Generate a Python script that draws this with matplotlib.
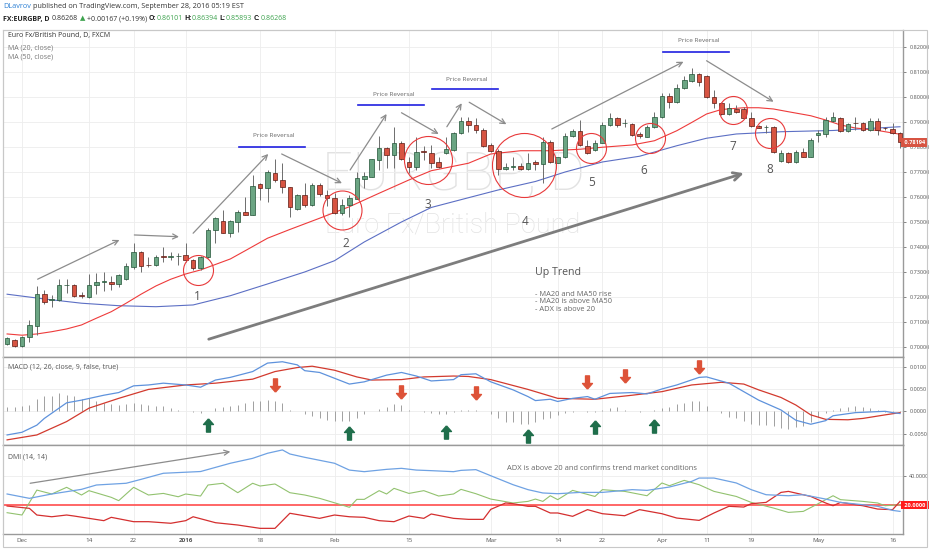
import numpy as np
import matplotlib
matplotlib.use("Agg")
import matplotlib.pyplot as plt
from matplotlib.patches import Rectangle
from matplotlib.ticker import FuncFormatter

plt.rcParams['font.family'] = ['Open Sans', 'DejaVu Sans']

# ---------------- data (bar index 0 = 27 Nov 2015, daily FX bars) ----------------
opens = [0.7012,0.7028,0.7005,0.7039,0.7085,0.7211,0.7187,0.7188,0.7247,0.7248,
 0.7207,0.7199,0.7247,0.7260,0.7261,0.7252,0.7271,0.7321,0.7381,0.7327,
 0.7327,0.7362,0.7361,0.7363,0.7369,0.7348,0.7315,0.7359,0.7468,0.7505,
 0.7457,0.7501,0.7541,0.7528,0.7652,0.7637,0.7697,0.7668,0.7639,0.7552,
 0.7608,0.7568,0.7648,0.7608,0.7595,0.7535,0.7568,0.7592,0.7673,0.7681,
 0.7748,0.7795,0.7768,0.7817,0.7741,0.7719,0.7783,0.7777,0.7739,0.7777,
 0.7788,0.7855,0.7904,0.7887,0.7868,0.7808,0.7785,0.7711,0.7719,0.7724,
 0.7713,0.7740,0.7731,0.7821,0.7737,0.7759,0.7844,0.7865,0.7804,0.7788,
 0.7817,0.7888,0.7915,0.7895,0.7891,0.7852,0.7841,0.7881,0.7921,0.8005,
 0.7979,0.8035,0.8065,0.8092,0.8085,0.8001,0.7975,0.7931,0.7952,0.7952,
 0.7917,0.7884,0.7879,0.7881,0.7744,0.7775,0.7741,0.7781,0.7761,0.7848,
 0.7852,0.7905,0.7917,0.7865,0.7895,0.7895,0.7868,0.7904,0.7877,0.7872,
 0.7855]
highs = [0.7041,0.7032,0.7043,0.7108,0.7244,0.7228,0.7208,0.7272,0.7271,0.7252,
 0.7221,0.7291,0.7295,0.7299,0.7284,0.7291,0.7335,0.7415,0.7384,0.7361,
 0.7368,0.7401,0.7381,0.7375,0.7417,0.7351,0.7363,0.7475,0.7521,0.7548,
 0.7508,0.7548,0.7601,0.7688,0.7657,0.7708,0.7751,0.7735,0.7641,0.7611,
 0.7657,0.7655,0.7655,0.7628,0.7615,0.7591,0.7608,0.7701,0.7701,0.7751,
 0.7844,0.7799,0.7880,0.7822,0.7761,0.7841,0.7804,0.7808,0.7759,0.7839,
 0.7861,0.7921,0.7921,0.7915,0.7875,0.7815,0.7791,0.7735,0.7761,0.7735,
 0.7775,0.7748,0.7841,0.7828,0.7761,0.7857,0.7871,0.7908,0.7828,0.7828,
 0.7901,0.7935,0.7919,0.7911,0.7895,0.7861,0.7888,0.7941,0.8015,0.8015,
 0.8051,0.8085,0.8115,0.8095,0.8088,0.8028,0.7981,0.7975,0.7968,0.7961,
 0.7941,0.7888,0.7888,0.7885,0.7788,0.7779,0.7788,0.7795,0.7835,0.7868,
 0.7921,0.7941,0.7921,0.7895,0.7921,0.7901,0.7915,0.7915,0.7881,0.7895,
 0.7859]
lows = [0.7008,0.7000,0.6998,0.7021,0.7048,0.7172,0.7159,0.7185,0.7215,0.7199,
 0.7195,0.7195,0.7212,0.7225,0.7228,0.7241,0.7268,0.7311,0.7301,0.7319,
 0.7324,0.7341,0.7348,0.7328,0.7341,0.7308,0.7308,0.7355,0.7415,0.7455,
 0.7441,0.7461,0.7528,0.7528,0.7588,0.7581,0.7661,0.7615,0.7521,0.7548,
 0.7561,0.7564,0.7604,0.7564,0.7532,0.7528,0.7521,0.7592,0.7635,0.7679,
 0.7708,0.7715,0.7715,0.7748,0.7695,0.7708,0.7748,0.7715,0.7715,0.7772,
 0.7785,0.7852,0.7861,0.7855,0.7801,0.7781,0.7688,0.7708,0.7708,0.7708,
 0.7708,0.7708,0.7655,0.7737,0.7735,0.7755,0.7841,0.7804,0.7772,0.7785,
 0.7815,0.7884,0.7881,0.7881,0.7844,0.7835,0.7839,0.7875,0.7917,0.7957,
 0.7975,0.8032,0.8061,0.8045,0.7995,0.7957,0.7928,0.7928,0.7935,0.7915,
 0.7881,0.7875,0.7855,0.7775,0.7741,0.7735,0.7737,0.7759,0.7759,0.7821,
 0.7841,0.7901,0.7861,0.7861,0.7868,0.7864,0.7864,0.7848,0.7868,0.7851,
 0.7795]
closes = [0.7037,0.7005,0.7039,0.7088,0.7212,0.7179,0.7190,0.7247,0.7248,0.7205,
 0.7205,0.7248,0.7259,0.7262,0.7252,0.7288,0.7324,0.7381,0.7324,0.7326,
 0.7359,0.7361,0.7363,0.7364,0.7348,0.7315,0.7359,0.7468,0.7515,0.7457,
 0.7505,0.7541,0.7528,0.7644,0.7637,0.7701,0.7668,0.7639,0.7559,0.7608,
 0.7568,0.7648,0.7611,0.7597,0.7535,0.7568,0.7595,0.7675,0.7683,0.7751,
 0.7795,0.7768,0.7817,0.7751,0.7719,0.7781,0.7780,0.7737,0.7719,0.7791,
 0.7855,0.7904,0.7887,0.7868,0.7804,0.7785,0.7711,0.7721,0.7724,0.7713,
 0.7737,0.7731,0.7821,0.7741,0.7759,0.7844,0.7865,0.7808,0.7775,0.7817,
 0.7888,0.7915,0.7888,0.7895,0.7848,0.7844,0.7881,0.7921,0.8005,0.7979,
 0.8035,0.8068,0.8092,0.8061,0.8001,0.7975,0.7932,0.7955,0.7939,0.7917,
 0.7884,0.7877,0.7879,0.7779,0.7775,0.7741,0.7781,0.7761,0.7828,0.7857,
 0.7908,0.7919,0.7865,0.7892,0.7894,0.7868,0.7904,0.7868,0.7875,0.7855,
 0.7819]
last_price = 0.78194

ma20_x = [0,2,4,6,8,10,12,14,16,18,20,22,24,26,28,30,32,35,38,42,46,50,54,57,62,65,
          69,73,77,80,84,87,90,92,94,96,99,101,103,105,108,110,112,114,117,120]
ma20_y = [0.7052,0.7047,0.7052,0.7061,0.7072,0.7088,0.7115,0.7141,0.7175,0.7211,0.7244,
          0.7271,0.7292,0.7308,0.7330,0.7352,0.7385,0.7435,0.7470,0.7515,0.7561,0.7615,
          0.7668,0.7705,0.7735,0.7772,0.7785,0.7785,0.7791,0.7799,0.7808,0.7825,0.7865,
          0.7898,0.7932,0.7950,0.7957,0.7957,0.7952,0.7941,0.7925,0.7908,0.7888,0.7876,
          0.7866,0.7851]
ma50_x = [0,5,10,15,20,25,30,35,40,44,48,53,57,62,66,71,75,80,85,90,94,98,104,111,120]
ma50_y = [0.7211,0.7192,0.7175,0.7165,0.7161,0.7168,0.7205,0.7252,0.7300,0.7345,0.7420,
          0.7500,0.7558,0.7597,0.7628,0.7662,0.7700,0.7740,0.7763,0.7805,0.7835,0.7852,
          0.7861,0.7866,0.7881]

macd_x = [0,2,4,5,8,10,13,15,17,19,21,24,26,28,30,33,35,37,39,40,42,44,46,48,51,53,55,
          57,60,61,63,65,68,70,71,73,74,76,78,79,81,84,86,88,90,93,94,97,99,101,104,106,
          108,110,111,114,118,119,120]
macd_y = [-0.0053,-0.0047,-0.0031,-0.0016,0.0019,0.0025,0.0036,0.0042,0.0057,0.0059,0.0063,
          0.0059,0.0054,0.0070,0.0076,0.0089,0.0108,0.0111,0.0104,0.0091,0.0087,0.0074,
          0.0061,0.0066,0.0081,0.0087,0.0079,0.0068,0.0071,0.0082,0.0084,0.0066,0.0048,
          0.0033,0.0024,0.0027,0.0022,0.0029,0.0033,0.0027,0.0040,0.0042,0.0039,0.0050,
          0.0059,0.0076,0.0077,0.0063,0.0044,0.0025,0.0003,-0.0020,-0.0029,-0.0021,-0.0010,
          -0.0003,0.0000,-0.0003,-0.0005]
signal_x = [0,4,8,11,15,19,24,28,33,36,39,41,44,47,49,53,56,60,62,65,70,74,79,84,88,92,96,
            99,101,104,106,108,110,113,115,118,120]
signal_y = [-0.0064,-0.0053,-0.0023,0.0007,0.0029,0.0049,0.0059,0.0063,0.0072,0.0089,0.0098,
            0.0101,0.0092,0.0077,0.0070,0.0071,0.0077,0.0079,0.0078,0.0071,0.0049,0.0029,
            0.0027,0.0036,0.0044,0.0059,0.0065,0.0061,0.0048,0.0031,0.0014,-0.0008,-0.0018,
            -0.0019,-0.0016,-0.0008,-0.0003]
hist = [0.0010,0.0010,0.0011,0.0015,0.0028,0.0034,0.0034,0.0041,0.0037,0.0035,
 0.0028,0.0030,0.0022,0.0019,0.0017,0.0015,0.0016,0.0019,0.0017,0.0013,
 0.0011,0.0011,0.0007,0.0004,0.0000,-0.0002,-0.0004,0.0000,0.0007,0.0010,
 0.0011,0.0015,0.0019,0.0022,0.0022,0.0025,0.0022,0.0019,0.0004,0.0000,
 -0.0007,-0.0011,-0.0015,-0.0019,-0.0022,-0.0022,-0.0022,-0.0015,-0.0007,0.0000,
 0.0005,0.0010,0.0016,0.0013,0.0004,0.0000,-0.0001,-0.0004,-0.0007,-0.0005,
 -0.0002,0.0003,0.0004,0.0003,0.0000,-0.0006,-0.0016,-0.0023,-0.0025,-0.0028,
 -0.0028,-0.0023,-0.0018,-0.0016,-0.0008,-0.0003,-0.0001,0.0001,-0.0001,-0.0001,
 0.0003,0.0007,0.0009,0.0004,0.0001,-0.0001,0.0000,0.0003,0.0007,0.0009,
 0.0016,0.0018,0.0022,0.0024,0.0012,0.0001,-0.0004,-0.0012,-0.0016,-0.0021,
 -0.0028,-0.0031,-0.0031,-0.0034,-0.0038,-0.0040,-0.0036,-0.0033,-0.0025,-0.0012,
 -0.0004,0.0004,0.0007,0.0010,0.0012,0.0010,0.0007,0.0003,-0.0001,-0.0001,
 -0.0001]
buy_x = [27, 46, 59, 70, 79, 87]
buy_y = [-0.0031, -0.0048, -0.0046, -0.0055, -0.0036, -0.0033]
sell_x = [36, 53, 63, 78, 83, 93]
sell_y = [0.0059, 0.0044, 0.0041, 0.0066, 0.0078, 0.0099]

adx_x = [0,3,6,10,12,16,18,21,26,30,33,35,37,38,40,44,46,48,51,53,55,57,60,61,63,65,68,
         70,72,74,77,80,84,86,89,92,93,95,98,100,102,105,107,110,112,115,117,119,120]
adx_y = [27.6,24.6,27.6,30.8,33.8,35.0,37.7,41.9,43.1,48.8,52.2,55.7,58.0,55.2,52.9,48.8,
         44.1,43.0,44.6,45.3,44.1,43.7,43.0,43.9,44.4,40.2,34.0,30.6,28.3,27.8,28.7,28.7,
         30.6,30.1,32.4,36.3,38.6,38.6,35.2,30.6,27.1,26.4,27.1,24.1,21.8,20.2,19.1,16.3,15.6]
pdi_x = [0,2,4,6,8,10,11,14,15,17,19,21,23,24,26,27,29,31,33,34,36,38,40,42,45,46,47,48,
         50,51,52,54,56,58,60,61,63,65,68,70,71,72,73,74,76,79,80,83,86,88,89,91,93,95,98,
         100,103,105,107,109,111,112,115,117,118,120]
pdi_y = [14.7,13.1,30.3,27.6,32.2,26.9,29.9,25.3,23.0,32.2,26.9,28.0,25.7,27.6,26.2,33.8,
         35.0,28.5,35.0,33.1,34.5,28.5,26.9,24.6,20.0,18.4,23.9,23.9,29.9,27.6,31.5,28.0,
         29.9,26.2,27.6,30.8,27.8,24.1,21.4,22.5,24.1,22.5,26.4,23.7,30.1,25.9,30.6,29.4,
         26.4,35.2,33.3,37.0,34.0,29.4,25.9,21.8,17.9,14.9,15.6,20.9,26.4,23.7,22.5,21.4,
         19.5,20.2]
mdi_x = [0,3,4,6,8,9,11,13,14,17,19,22,24,25,28,31,34,36,38,42,44,46,48,50,52,54,56,57,60,
         62,64,65,67,68,70,71,73,74,76,78,80,83,85,88,90,93,95,97,99,100,102,104,105,108,
         110,111,112,115,117,119,120]
mdi_y = [19.3,17.7,13.1,11.9,13.1,12.4,10.8,9.2,11.5,8.5,8.5,7.4,9.2,11.9,7.8,6.2,3.9,3.9,
         14.3,10.8,13.1,11.9,11.5,9.2,8.5,12.4,10.8,13.8,10.8,10.1,10.1,17.0,21.4,20.9,19.1,
         19.1,14.5,14.5,12.2,16.8,14.0,12.6,16.8,14.0,11.0,9.4,14.5,19.1,18.6,20.9,21.8,28.7,
         29.4,25.9,21.4,19.5,21.8,19.5,17.2,16.8,22.5]

tick_pos = [2, 11, 17, 24, 34, 44, 54, 65, 74, 80, 88, 94, 100, 109, 119]
tick_lab = ['Dec', '14', '22', '2016', '18', 'Feb', '15', 'Mar', '14', '22', 'Apr', '11', '19', 'May', '16']

# drawn annotations (bar index, price)
thin_x0 = [4.1, 17.1, 25.0, 36.9, 46.1, 53.0, 59.1, 62.1, 73.2, 94.0]
thin_y0 = [0.7271, 0.7448, 0.7455, 0.7772, 0.7708, 0.7937, 0.7881, 0.7979, 0.7872, 0.8145]
thin_x1 = [15.1, 23.1, 35.1, 45.0, 51.0, 58.0, 61.1, 67.1, 90.9, 103.0]
thin_y1 = [0.7428, 0.7441, 0.7772, 0.7655, 0.7932, 0.7852, 0.7975, 0.7891, 0.8141, 0.7981]
circle_x = [25.6, 45.05, 56.6, 69.5, 78.5, 86.4, 97.6, 102.5]
circle_y = [0.7308, 0.7548, 0.7748, 0.7728, 0.7796, 0.7836, 0.7948, 0.7856]
circle_r = [15, 19.5, 24, 32, 15, 15, 14, 15]
num_x = [25.6, 45.5, 56.6, 69.6, 78.5, 85.6, 97.6, 102.5]
num_y = [0.7200, 0.7412, 0.7568, 0.7500, 0.7656, 0.7704, 0.7800, 0.7708]
rev_x = [35.9, 51.9, 61.8, 92.9]
rev_y = [0.7844, 0.8008, 0.8068, 0.8224]
rev_line_x0 = [31.1, 47.1, 57.1, 88.1]
rev_line_x1 = [40.0, 56.0, 66.0, 97.0]
rev_line_y = [0.7801, 0.7968, 0.8031, 0.8179]

W, H = 932, 550
fig = plt.figure(figsize=(W / 100, H / 100), dpi=100)
fig.patch.set_facecolor('white')


def px_axes(x0, y0, x1, y1):
    return fig.add_axes([x0 / W, 1 - y1 / H, (x1 - x0) / W, (y1 - y0) / H])


ax1 = px_axes(3, 30, 903, 356.7)
ax2 = px_axes(3, 356.7, 903, 445)
ax3 = px_axes(3, 445, 903, 534)

dark = '#9a9a9a'
light = '#c8c8c8'
for ax in (ax1, ax2, ax3):
    ax.set_xlim(-0.55, 120.4)
    ax.set_xticks(tick_pos)
    ax.grid(True, color='#ededed', lw=0.6)
    ax.set_axisbelow(True)
    ax.yaxis.tick_right()
    ax.tick_params(axis='y', labelsize=4, colors='#555555', length=2.5, width=0.5, pad=2)
    ax.tick_params(axis='x', length=0, labelbottom=False)
    for s in ('top', 'bottom', 'right'):
        ax.spines[s].set_color(dark)
        ax.spines[s].set_linewidth(1.0)
    ax.spines['left'].set_color(light)
    ax.spines['left'].set_linewidth(0.8)
ax1.spines['top'].set_color(light)
ax1.spines['top'].set_linewidth(0.8)

ax3.tick_params(axis='x', labelbottom=True, labelsize=4.5, labelcolor='#555555', pad=3)
ax3.set_xticklabels(tick_lab)
for lab in ax3.get_xticklabels():
    if lab.get_text() == '2016':
        lab.set_fontweight('bold')

# ---------------- price pane ----------------
x = np.arange(len(closes))
o = np.array(opens); c = np.array(closes); hi = np.array(highs); lo = np.array(lows)
up = c >= o
ax1.set_ylim(0.6961, 0.8268)
ax1.set_yticks(np.arange(0.70, 0.8201, 0.01))
ax1.yaxis.set_major_formatter(FuncFormatter(lambda v, p: f'{v:.5f}'))

# symbol watermark behind the candles
ax1.text(0.5, 0.556, 'EURGBP, D', transform=ax1.transAxes, ha='center', va='center',
         fontsize=39, color='#e2e2e2', family=['Roboto', 'DejaVu Sans'], fontweight='light', zorder=0)
ax1.text(0.5, 0.403, 'Euro Fx/British Pound', transform=ax1.transAxes, ha='center', va='center',
         fontsize=19.5, color='#e2e2e2', family=['Roboto', 'DejaVu Sans'], fontweight='light', zorder=0)

ax1.plot(ma50_x, ma50_y, color='#5c6fc4', lw=0.8, zorder=2)
ax1.plot(ma20_x, ma20_y, color='#ee3b3b', lw=0.8, zorder=2)

ax1.vlines(x, lo, hi, color='#6d6d6d', lw=0.7, zorder=3)
body_h = np.maximum(np.abs(c - o), 0.00004)
ax1.bar(x, body_h, bottom=np.minimum(o, c), width=0.62,
        color=np.where(up, '#6ba583', '#d75442'), edgecolor=np.where(up, '#225437', '#5b1a13'),
        lw=0.5, zorder=4)

for i in range(len(thin_x0)):
    ax1.annotate('', xy=(thin_x1[i], thin_y1[i]), xytext=(thin_x0[i], thin_y0[i]),
                 arrowprops=dict(arrowstyle='->', color='#8c8c8c', lw=0.9, mutation_scale=9,
                                 shrinkA=0, shrinkB=0), zorder=5)
ax1.annotate('', xy=(99.0, 0.7695), xytext=(27.1, 0.7031),
             arrowprops=dict(arrowstyle='->', color='#7d7d7d', lw=2.0, mutation_scale=14,
                             shrinkA=0, shrinkB=0), zorder=5)

for cx, cy, r in zip(circle_x, circle_y, circle_r):
    ax1.plot(cx, cy, 'o', ms=2 * r * 0.72, mfc='none', mec='#e8393a', mew=0.8, zorder=6)
for k, (nx, ny) in enumerate(zip(num_x, num_y)):
    ax1.text(nx, ny, str(k + 1), ha='center', va='center', fontsize=8.5, color='#555555', zorder=6)
for k in range(len(rev_x)):
    ax1.text(rev_x[k], rev_y[k], 'Price Reversal', ha='center', va='center', fontsize=4.6,
             color='#666666', zorder=6)
    ax1.plot([rev_line_x0[k], rev_line_x1[k]], [rev_line_y[k]] * 2, color='#2020e0', lw=1.2, zorder=6)

ax1.text(71.0, 0.7296, 'Up Trend', ha='left', va='center', fontsize=7.6, color='#555555')
ax1.text(71.0, 0.7180, '- MA20 and MA50 rise\n- MA20 is above MA50\n- ADX is above 20',
         ha='left', va='center', fontsize=5.4, color='#666666', linespacing=1.05)

ax1.text(1.0, last_price, ' 0.78194 ', transform=ax1.get_yaxis_transform(), ha='left', va='center',
         fontsize=4, color='white', fontweight='bold',
         bbox=dict(boxstyle='square,pad=0.35', fc='#d75442', ec='none'), zorder=7, clip_on=False)

# ---------------- MACD pane ----------------
ax2.set_ylim(-0.00755, 0.01223)
ax2.set_yticks([-0.005, 0.0, 0.005, 0.01])
ax2.yaxis.set_major_formatter(FuncFormatter(lambda v, p: f'{v:.4f}'))
ax2.vlines(x, 0, hist, color='#a0a0a0', lw=0.7, zorder=2)
ax2.plot(signal_x, signal_y, color='#d23a2e', lw=0.9, zorder=3)
ax2.plot(macd_x, macd_y, color='#5e92dc', lw=0.9, zorder=3)
up_arrow = [(0, 1), (0.75, 0.15), (0.3, 0.15), (0.3, -1), (-0.3, -1), (-0.3, 0.15), (-0.75, 0.15), (0, 1)]
down_arrow = [(a, -b) for a, b in up_arrow]
ax2.plot(buy_x, buy_y, ls='none', marker=up_arrow, ms=9.5, color='#1f6e4b', zorder=4)
ax2.plot(sell_x, sell_y, ls='none', marker=down_arrow, ms=9.5, color='#dd5238', zorder=4)

# ---------------- DMI pane ----------------
ax3.set_ylim(0, 61.4)
ax3.set_yticks([40])
ax3.set_yticklabels(['40.0000'])
ax3.axhline(20, color='#ff4d4d', lw=1.2, zorder=2)
ax3.plot(pdi_x, pdi_y, color='#92c26f', lw=0.8, zorder=3)
ax3.plot(mdi_x, mdi_y, color='#d42f2f', lw=0.9, zorder=3)
ax3.plot(adx_x, adx_y, color='#6fa2e3', lw=0.9, zorder=3)
ax3.annotate('', xy=(30.0, 56.8), xytext=(3.1, 35.0),
             arrowprops=dict(arrowstyle='->', color='#8c8c8c', lw=0.9, mutation_scale=9,
                             shrinkA=0, shrinkB=0))
ax3.text(67.2, 45.2, 'ADX is above 20 and confirms trend market conditions', ha='left', va='center',
         fontsize=5.4, color='#666666')
ax3.text(1.0, 20, ' 20.0000 ', transform=ax3.get_yaxis_transform(), ha='left', va='center',
         fontsize=4, color='white', fontweight='bold',
         bbox=dict(boxstyle='square,pad=0.35', fc='#ff1c1c', ec='none'), zorder=7, clip_on=False)

# ---------------- pane titles, header, frame ----------------
fs = 5.0
fig.text(8 / W, 1 - 36 / H, 'Euro Fx/British Pound, D, FXCM', fontsize=fs, color='#333333', va='center')
fig.text(8 / W, 1 - 47.5 / H, 'MA (20, close)', fontsize=fs, color='#777777', va='center')
fig.text(8 / W, 1 - 57.5 / H, 'MA (50, close)', fontsize=fs, color='#777777', va='center')
fig.text(7.5 / W, 1 - 367.3 / H, 'MACD (12, 26, close, 9, false, true)', fontsize=fs, color='#555555', va='center')
fig.text(7.5 / W, 1 - 456.7 / H, 'DMI (14, 14)', fontsize=fs, color='#555555', va='center')

renderer = fig.canvas.get_renderer()


def chain(x_px, y_px, parts, size):
    space = 0.27 * size * 100 / 72
    for s, col, wt in parts:
        t = fig.text(x_px / W, 1 - y_px / H, s.strip(), color=col, fontweight=wt, fontsize=size, va='center')
        x_px += t.get_window_extent(renderer=renderer).width
        if s.endswith(' '):
            x_px += space


green = '#3ea34f'
chain(3, 6, [('DLavrov ', '#2a7fd4', 'normal'),
             ('published on TradingView.com, September 28, 2016 05:19 EST', '#333333', 'normal')], 5.2)
chain(3, 19, [('FX:EURGBP, D ', '#222222', 'bold'), ('0.86268 ', '#333333', 'normal'),
              ('▲ ', green, 'normal'), ('+0.00167 (+0.19%) ', '#333333', 'normal'),
              ('O:', '#222222', 'bold'), ('0.86101 ', green, 'normal'),
              ('H:', '#222222', 'bold'), ('0.86394 ', green, 'normal'),
              ('L:', '#222222', 'bold'), ('0.85893 ', green, 'normal'),
              ('C:', '#222222', 'bold'), ('0.86268', green, 'normal')], 5.0)

fig.add_artist(Rectangle((3 / W, 1 - 547 / H), 924 / W, 517 / H, transform=fig.transFigure,
                         fill=False, ec=light, lw=0.8))

fig.savefig('out.png', dpi=100)
